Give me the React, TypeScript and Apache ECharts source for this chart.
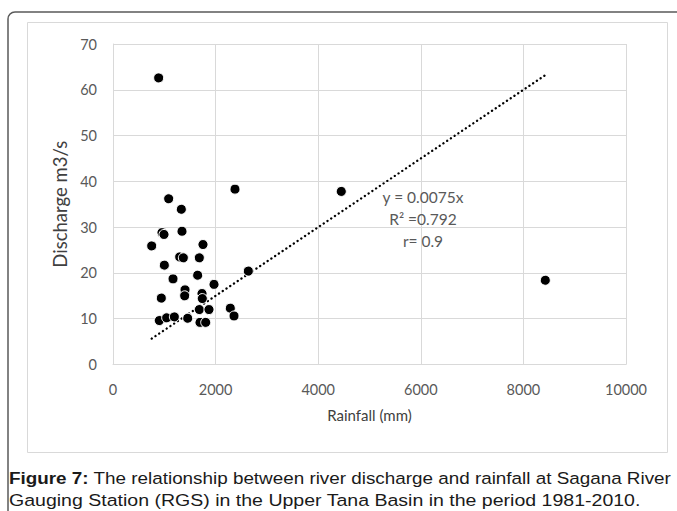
import React, { useEffect, useRef } from "react";
import * as echarts from "echarts";

const rainfall = [890, 2378, 1085, 1332, 955, 994, 1345, 754, 1754, 1300, 1371, 1683, 1001, 2638, 4450, 1650, 1170, 1969, 1404, 1397, 1735, 1741, 942, 1683, 1871, 2287, 2359, 903, 1046, 1196, 1456, 1696, 1807, 8427];
const discharge = [62.6, 38.3, 36.2, 33.9, 28.8, 28.4, 29.1, 25.9, 26.2, 23.5, 23.3, 23.3, 21.7, 20.4, 37.8, 19.5, 18.7, 17.5, 16.3, 15.0, 15.5, 14.4, 14.5, 12.0, 12.0, 12.3, 10.6, 9.6, 10.2, 10.4, 10.1, 9.2, 9.2, 18.4];
const slope = 0.0075;
const xTicks = { min: 0, max: 10000, interval: 2000 };
const yTicks = { min: 0, max: 70, interval: 10 };
const annotation = ["y = 0.0075x", "R\u00b2 =0.792", "r= 0.9"];
const captionBold = "Figure 7:";
const captionLine1 = " The relationship between river discharge and rainfall at Sagana River";
const captionLine2 = "Gauging Station (RGS) in the Upper Tana Basin in the period 1981-2010.";

export default function App() {
  const ref = useRef<HTMLDivElement>(null);
  useEffect(() => {
    document.body.style.margin = "0";
    const chart = echarts.init(ref.current!, null, { renderer: "svg" });
    const pts = rainfall.map((x, i) => [x, discharge[i]]);
    const xMin = Math.min(...rainfall);
    const xMax = Math.max(...rainfall);
    const trend = [[xMin, slope * xMin], [xMax, slope * xMax]];
    const font = "Lato, 'Noto Sans', sans-serif";
    const capFont = "'Liberation Sans', Arial, sans-serif";
    chart.setOption({
      animation: false,
      backgroundColor: "#ffffff",
      grid: { left: 113, top: 44, right: 51, bottom: 146.5 },
      xAxis: {
        type: "value",
        min: xTicks.min, max: xTicks.max, interval: xTicks.interval,
        name: "Rainfall (mm)", nameLocation: "middle", nameGap: 43,
        nameTextStyle: { color: "#404040", fontSize: 15, fontFamily: font },
        axisLine: { show: true, lineStyle: { color: "#d9d9d9" } },
        axisTick: { show: false },
        axisLabel: { color: "#595959", fontSize: 14.5, fontFamily: font, margin: 17, formatter: (v: number) => String(v) },
        splitLine: { show: true, lineStyle: { color: "#d9d9d9", width: 1 } },
      },
      yAxis: {
        type: "value",
        min: yTicks.min, max: yTicks.max, interval: yTicks.interval,
        name: "Discharge m3/s", nameLocation: "middle", nameGap: 35,
        nameTextStyle: { color: "#404040", fontSize: 18.5, fontFamily: font },
        axisLine: { show: true, lineStyle: { color: "#d9d9d9" } },
        axisTick: { show: false },
        axisLabel: { color: "#595959", fontSize: 14.5, fontFamily: font, margin: 16 },
        splitLine: { show: true, lineStyle: { color: "#d9d9d9", width: 1 } },
      },
      series: [
        {
          type: "line",
          data: trend,
          symbol: "none",
          lineStyle: { color: "#000", width: 2.3, type: [0.1, 4.4], cap: "round" },
          z: 3,
        },
        {
          type: "scatter",
          data: pts,
          symbol: "circle",
          symbolSize: 10,
          itemStyle: { color: "#000", borderColor: "#fff", borderWidth: 1, opacity: 1 },
          z: 4,
        },
      ],
      graphic: [
        {
          type: "rect", z: -10, silent: true,
          shape: { x: 8, y: 12, width: 720, height: 560, r: [7, 0, 0, 0] },
          style: { fill: "none", stroke: "#5a5a5a", lineWidth: 1.5 },
        },
        {
          type: "rect", z: -9, silent: true,
          shape: { x: 27.5, y: 22.5, width: 640, height: 430 },
          style: { fill: "none", stroke: "#d9d9d9", lineWidth: 1 },
        },
        ...annotation.map((t, i) => ({
          type: "text", z: 10, silent: true,
          x: 423, y: 197 + i * 22,
          style: { text: t, fill: "#595959", font: `15.5px ${font}`, textAlign: "center", textVerticalAlign: "middle" },
        })),
        {
          type: "text", z: 10, silent: true,
          x: 9, y: 478, scaleX: 1.11,
          style: {
            text: `{b|${captionBold}}{n|${captionLine1}}`,
            fill: "#1a1a1a", font: `17px ${capFont}`,
            textVerticalAlign: "middle",
            rich: {
              b: { fontWeight: "bold", fontSize: 17, fontFamily: capFont, fill: "#1a1a1a" },
              n: { fontSize: 17, fontFamily: capFont, fill: "#1a1a1a" },
            },
          },
        },
        {
          type: "text", z: 10, silent: true,
          x: 9, y: 500, scaleX: 1.15,
          style: {
            text: captionLine2,
            fill: "#1a1a1a", font: `17px ${capFont}`,
            textVerticalAlign: "middle",
          },
        },
      ],
    });
    return () => chart.dispose();
  }, []);
  return <div ref={ref} style={{ width: 677, height: 511 }} />;
}
